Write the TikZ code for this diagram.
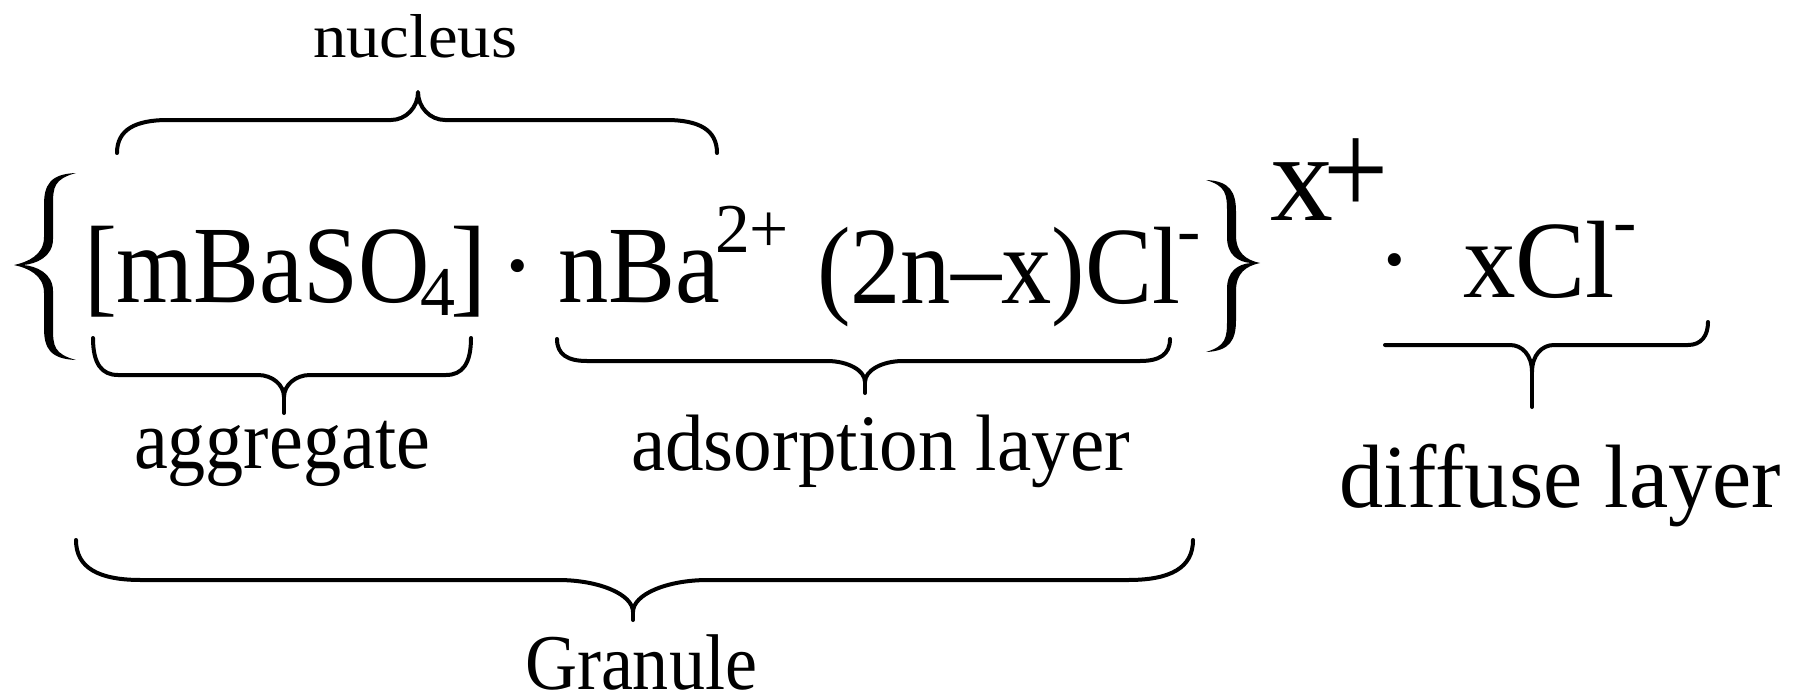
\documentclass[tikz,border=0pt]{standalone}
\usepackage{fontspec}
\setmainfont{Liberation Serif}
\usepackage{graphicx}
\newcommand\fitw[2]{\resizebox{#1pt}{\height}{#2}}
% thin brace: #1 x1, #2 x2, #3 yend, #4 yline, #5 xm, #6 ytip, #7 r, #8 w
\newcommand\hbrace[8]{%
  \draw[bracestyle] (#1,#3) .. controls (#1,{#3+0.7*(#4-#3)}) and ({#1+0.35*#7},#4) .. ({#1+#7},#4)
    -- ({#5-#8},#4) .. controls ({#5-0.45*#8},#4) and (#5,{#4+0.45*(#6-#4)}) .. (#5,#6)
    .. controls (#5,{#4+0.45*(#6-#4)}) and ({#5+0.45*#8},#4) .. ({#5+#8},#4)
    -- ({#2-#7},#4) .. controls ({#2-0.35*#7},#4) and (#2,{#3+0.7*(#4-#3)}) .. (#2,#3);}
% big brace: #1 xtip #2 xarm #3 xend #4 ytop #5 ytip #6 ybot #7 s
\newcommand\bigbrace[7]{%
  \fill ({#3},{#4})
    .. controls ({#2+2*(#7)},{#4+1}) and ({#2-4*(#7)},{#4+12}) .. ({#2-4*(#7)},{#4+32})
    -- ({#2-4*(#7)},{#5-28})
    .. controls ({#2-4*(#7)},{#5-10}) and ({#1+14*(#7)},{#5-3}) .. (#1,#5)
    .. controls ({#1+14*(#7)},{#5+3}) and ({#2-4*(#7)},{#5+10}) .. ({#2-4*(#7)},{#5+28})
    -- ({#2-4*(#7)},{#6-32})
    .. controls ({#2-4*(#7)},{#6-12}) and ({#2+2*(#7)},{#6-1}) .. (#3,#6)
    .. controls ({#2+6*(#7)},{#6-6}) and ({#2+5*(#7)},{#6-14}) .. ({#2+5*(#7)},{#6-32})
    -- ({#2+5*(#7)},{#5+26})
    .. controls ({#2+5*(#7)},{#5+8}) and ({#1+22*(#7)},{#5+1}) .. ({#1+9*(#7)},#5)
    .. controls ({#1+22*(#7)},{#5-1}) and ({#2+5*(#7)},{#5-8}) .. ({#2+5*(#7)},{#5-26})
    -- ({#2+5*(#7)},{#4+32})
    .. controls ({#2+5*(#7)},{#4+14}) and ({#2+6*(#7)},{#4+6}) .. (#3,#4) -- cycle;}
\begin{document}
\begin{tikzpicture}[x=1pt,y=-1pt,
  every node/.style={inner sep=0pt, outer sep=0pt},
  txt/.style={anchor=base west},
  fbig/.style={font=\fontsize{110}{120}\selectfont},
  fsup/.style={font=\fontsize{70}{80}\selectfont},
  bracestyle/.style={line width=4pt, line cap=round, line join=round}]
\useasboundingbox[fill=white] (0,0) rectangle (1798,696);

% texts
\node[txt, font=\fontsize{62}{70}\selectfont] (nucl) at (313,57) {\fitw{204}{nucleus}};
\node[txt, fbig] (agg1) at (84,302) {\fitw{346}{[mBaSO}};
\node[txt, fsup] (sub4) at (420,315) {4};
\node[txt, fbig] (rb) at (450,302) {]};
\node[anchor=base, fbig] (dot1) at (518,302) {·};
\node[txt, fbig] (nba) at (558,302) {\fitw{162}{nBa}};
\node[txt, fsup] (chg1) at (715,252) {\fitw{74}{2+}};
\node[txt, fbig] (ads1) at (817,303) {\fitw{363}{(2n–x)Cl}};
\node[anchor=base, fsup] (mn1) at (1189,253) {-};
\node[txt, font=\fontsize{126}{130}\selectfont] (xc) at (1270,220) {x};
\node[font=\fontsize{136}{140}\selectfont] (pl) at (1356,177) {\scalebox{0.85}[1]{+}};
\node[anchor=base, fbig] (dot2) at (1395,296) {·};
\node[txt, fbig] (xcl) at (1463,297) {\fitw{152}{xCl}};
\node[anchor=base, fsup] (mn2) at (1625,244) {-};
\node[txt, font=\fontsize{84}{90}\selectfont] (agg) at (134,468) {\fitw{296}{aggregate}};
\node[txt, font=\fontsize{80}{90}\selectfont] (ads) at (631,470) {\fitw{499}{adsorption layer}};
\node[txt, font=\fontsize{90}{100}\selectfont] (dif) at (1339,507) {\fitw{442}{diffuse layer}};
\node[txt, font=\fontsize{79}{90}\selectfont] (gran) at (525,689) {\fitw{232}{Granule}};

% big curly braces
\bigbrace{14}{48}{76}{173}{265}{360}{1}
\bigbrace{1260}{1232}{1206}{180}{263}{352}{-1}

% nucleus (over brace)
\hbrace{117}{717}{153}{120}{418}{92}{51}{27}
% aggregate
\hbrace{93}{471}{338}{375}{284}{397}{25}{26}
\draw[bracestyle] (284,397) -- (284,413);
% adsorption layer
\hbrace{557}{1170}{339}{361}{865}{382}{30}{38}
\draw[bracestyle] (865,382) -- (865,393);
% granule
\hbrace{76}{1193}{540}{580}{633}{612}{65}{75}
\draw[bracestyle] (633,612) -- (633,620);
% diffuse layer (left end cut flat)
\draw[bracestyle] (1385,345) -- (1510,345)
  .. controls (1522,345) and (1532,355) .. (1532,372)
  .. controls (1532,355) and (1542,345) .. (1554,345)
  -- (1688,345) .. controls (1701,345) and (1708,336) .. (1708,322);
\draw[bracestyle] (1532,372) -- (1532,407);
\end{tikzpicture}
\end{document}
